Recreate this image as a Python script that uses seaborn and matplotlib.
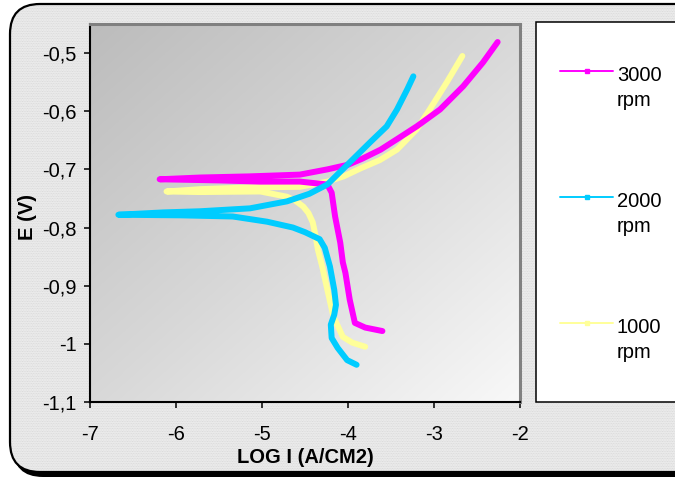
import numpy as np
import pandas as pd
import matplotlib
matplotlib.use("Agg")
import matplotlib.pyplot as plt
import seaborn as sns
from matplotlib.patches import FancyBboxPatch, Rectangle
from matplotlib.lines import Line2D
from matplotlib.transforms import IdentityTransform
from matplotlib.colors import LinearSegmentedColormap

# ---------------- data ----------------
series_labels = ["3000 rpm", "2000 rpm", "1000 rpm"]
series_colors = ["#FF00FF", "#00CCFF", "#FFFF99"]

logi_3000 = [-3.60, -3.80, -3.92, -3.98, -4.03, -4.06, -4.09, -4.15, -4.19, -4.24,
             -4.56, -5.02, -5.49, -6.19,
             -5.72, -5.14, -4.56, -4.24, -4.00, -3.84, -3.62, -3.43, -3.20, -2.93, -2.66, -2.43, -2.26]
e_3000 = [-0.978, -0.972, -0.964, -0.924, -0.878, -0.860, -0.826, -0.781, -0.740, -0.726,
          -0.721, -0.721, -0.719, -0.717,
          -0.714, -0.712, -0.709, -0.700, -0.692, -0.682, -0.666, -0.648, -0.626, -0.597, -0.557, -0.516, -0.481]

logi_2000 = [-3.90, -4.01, -4.12, -4.19, -4.20, -4.16, -4.14, -4.16, -4.21, -4.27, -4.33,
             -4.50, -4.64, -4.94, -5.34, -5.95, -6.67,
             -6.15, -5.72, -5.14, -4.71, -4.45, -4.24, -3.98, -3.74, -3.55, -3.43, -3.31, -3.24]
e_2000 = [-1.036, -1.028, -1.007, -0.990, -0.967, -0.950, -0.933, -0.907, -0.867, -0.835, -0.820,
          -0.808, -0.800, -0.790, -0.781, -0.779, -0.778,
          -0.774, -0.772, -0.767, -0.755, -0.742, -0.726, -0.688, -0.653, -0.626, -0.597, -0.562, -0.540]

logi_1000 = [-3.80, -3.95, -4.06, -4.17, -4.24, -4.30, -4.35, -4.38, -4.41, -4.46, -4.52, -4.61, -4.71,
             -5.02, -5.72, -6.11,
             -5.72, -5.14, -4.56, -4.24, -4.05, -3.85, -3.63, -3.43, -3.20, -3.05, -2.85, -2.67]
e_1000 = [-1.005, -0.998, -0.988, -0.953, -0.907, -0.867, -0.838, -0.812, -0.791, -0.775, -0.764, -0.754, -0.747,
          -0.738, -0.739, -0.738,
          -0.734, -0.731, -0.730, -0.721, -0.712, -0.698, -0.684, -0.666, -0.631, -0.597, -0.550, -0.505]

x_ticks = [-7, -6, -5, -4, -3, -2]
x_tick_labels = ["-7", "-6", "-5", "-4", "-3", "-2"]
y_ticks = [-1.1, -1.0, -0.9, -0.8, -0.7, -0.6, -0.5]
y_tick_labels = ["-1,1", "-1", "-0,9", "-0,8", "-0,7", "-0,6", "-0,5"]
x_label = "LOG I (A/CM2)"
y_label = "E (V)"

frames = []
for lab, xs, ys in zip(series_labels, [logi_3000, logi_2000, logi_1000], [e_3000, e_2000, e_1000]):
    frames.append(pd.DataFrame({"logI": xs, "E": ys, "series": lab}))
df = pd.concat(frames, ignore_index=True)

# ---------------- style ----------------
sns.set_theme(style="white")
plt.rcParams['font.family'] = ['Liberation Sans', 'DejaVu Sans']
plt.rcParams['hatch.linewidth'] = 0.6
FS = 14.5

W, H = 675, 479
fig = plt.figure(figsize=(W / 100, H / 100), dpi=100)
fig.patch.set_facecolor("white")

idt = IdentityTransform()
# shadow + frame
shadow = FancyBboxPatch((13, 2), 700, 468, boxstyle="round,pad=0,rounding_size=30",
                        transform=idt, fc="black", ec="none", zorder=-10)
fill = FancyBboxPatch((10, 7), 700, 468, boxstyle="round,pad=0,rounding_size=30",
                      transform=idt, fc="#f0f0f0", ec="#d4d4d4", lw=0, hatch="..........",
                      zorder=-9)
border = FancyBboxPatch((10, 7), 700, 468, boxstyle="round,pad=0,rounding_size=30",
                        transform=idt, fc="none", ec="black", lw=1.6, zorder=-8)
for p in (shadow, fill, border):
    fig.add_artist(p)

ax = fig.add_axes([90 / W, 77 / H, 430 / W, 378 / H])
ax.set_facecolor("none")

# gradient background
g = np.linspace(0, 1, 300)
GX, GY = np.meshgrid(g, g)
grad = (GX + GY) / 2
cmap = LinearSegmentedColormap.from_list("bg", ["#bcbcbc", "#d8d8d8", "#f8f8f8"])
ax.imshow(grad, extent=[0, 1, 0, 1], transform=ax.transAxes, cmap=cmap,
          aspect="auto", origin="upper", zorder=0, interpolation="bilinear")

draw_order = ["1000 rpm", "3000 rpm", "2000 rpm"]
palette = dict(zip(series_labels, series_colors))
for lab in draw_order:
    sub = df[df["series"] == lab]
    sns.lineplot(data=sub, x="logI", y="E", sort=False, estimator=None,
                 color=palette[lab], lw=4.3, ax=ax, legend=False, zorder=3)

ax.set_xlim(-7, -2)
ax.set_ylim(-1.1, -0.45)
ax.set_xticks(x_ticks)
ax.set_xticklabels(x_tick_labels)
ax.set_yticks(y_ticks)
ax.set_yticklabels(y_tick_labels)
ax.tick_params(axis="both", which="major", direction="out", length=4.5, width=1.1,
               color="black", labelsize=FS, labelcolor="black", bottom=True, left=True)
ax.tick_params(axis="x", pad=12)
ax.tick_params(axis="y", pad=5)

for s in ("left", "bottom"):
    ax.spines[s].set_color("black")
    ax.spines[s].set_linewidth(1.5)
for s in ("top", "right"):
    ax.spines[s].set_color("#808080")
    ax.spines[s].set_linewidth(2.2)
for s in ax.spines.values():
    s.set_zorder(4)

ax.set_xlabel(x_label, fontsize=FS, fontweight="bold", color="black", va="center")
ax.xaxis.set_label_coords(0.5, -0.148)
ax.set_ylabel(y_label, fontsize=FS, fontweight="bold", color="black", va="center")
ax.yaxis.set_label_coords(-0.1465, 0.489)

# legend box
leg_box = Rectangle((536, H - 402), 200, 380, transform=idt, fc="white", ec="black",
                    lw=1.1, zorder=5)
fig.add_artist(leg_box)
line_rows = [71, 197, 323]
for lab, col, ry in zip(series_labels, series_colors, line_rows):
    yd = H - ry
    fig.add_artist(Line2D([560, 613], [yd, yd], transform=idt, color=col, lw=1.4, zorder=6))
    fig.add_artist(Line2D([586.5], [yd], transform=idt, color=col, marker="s", ms=3.5,
                          lw=0, zorder=6))
    top, bottom = lab.split(" ")
    fig.text(617 / W, (H - (ry + 10)) / H, top, fontsize=FS, color="black",
             ha="left", va="baseline", zorder=6)
    fig.text(617 / W, (H - (ry + 35)) / H, bottom, fontsize=FS, color="black",
             ha="left", va="baseline", zorder=6)

fig.savefig("out.png", dpi=100)
